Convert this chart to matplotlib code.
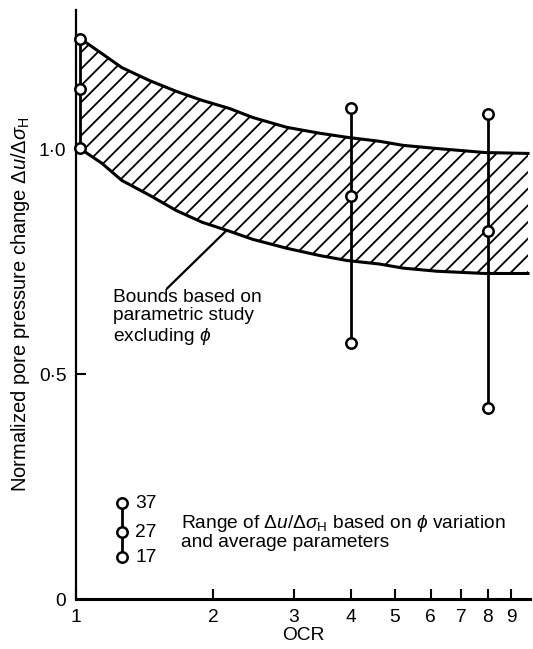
"""Normalized pore pressure change vs OCR, with parametric bounds."""

import matplotlib
matplotlib.use("Agg")
import matplotlib.pyplot as plt
from matplotlib.ticker import FixedLocator, NullLocator

plt.rcParams["font.family"] = ["Liberation Sans", "DejaVu Sans"]
plt.rcParams["mathtext.fontset"] = "custom"
plt.rcParams["mathtext.rm"] = "Liberation Sans"
plt.rcParams["mathtext.it"] = "Liberation Sans:italic"
plt.rcParams["hatch.linewidth"] = 1.3

# bounds from the parametric study (shaded band)
band_ocr = [1.02, 1.14, 1.26, 1.45, 1.66, 1.89, 2.17, 2.44, 2.90, 3.42, 3.92, 4.63, 5.21, 6.18, 7.88, 9.8]
band_upper = [1.247, 1.213, 1.182, 1.153, 1.129, 1.109, 1.091, 1.071, 1.049, 1.036, 1.027, 1.018, 1.009, 1.002, 0.993, 0.991]
band_lower = [1.002, 0.969, 0.931, 0.898, 0.864, 0.838, 0.818, 0.800, 0.780, 0.764, 0.753, 0.745, 0.736, 0.729, 0.724, 0.724]

# range of du/dsigma_H for phi variation (average parameters)
pt_ocr = [1.02, 4, 8]
phi_37 = [1.245, 1.091, 1.078]
phi_27 = [1.135, 0.896, 0.818]
phi_17 = [1.003, 0.569, 0.424]

# key symbol
key_ocr = 1.26
key_vals = [0.213, 0.149, 0.093]
key_labels = ["37", "27", "17"]

x_ticks = [1, 2, 3, 4, 5, 6, 7, 8, 9]
y_ticks = [0, 0.5, 1.0]
y_ticklabels = ["0", "0·5", "1·0"]

FS = 13.8
DPI = 100
fig = plt.figure(figsize=(533 / DPI, 649 / DPI), dpi=DPI)
ax = fig.add_axes([76 / 533, 50 / 649, 454 / 533, 589 / 649])
ax.set_xscale("log")
ax.set_xlim(1, 9.9)
ax.set_ylim(0, 1.31)

ax.fill_between(band_ocr, band_lower, band_upper, facecolor="none",
                edgecolor="black", hatch="//", linewidth=0)
ax.plot(band_ocr, band_upper, color="black", lw=2.2)
ax.plot(band_ocr, band_lower, color="black", lw=2.2)

for i, x in enumerate(pt_ocr):
    ys = [phi_37[i], phi_27[i], phi_17[i]]
    ax.plot([x] * 3, ys, color="black", lw=2.0, marker="o", ms=7.5,
            mfc="white", mec="black", mew=1.8, clip_on=False, zorder=5)

ax.plot([key_ocr] * 3, key_vals, color="black", lw=2.0, marker="o", ms=7.5,
        mfc="white", mec="black", mew=1.8, zorder=5)
for v, lab in zip(key_vals, key_labels):
    ax.text(key_ocr * 1.07, v, lab, fontsize=FS, va="center", ha="left")

ax.text(1.70, 0.15, "Range of $\\mathit{\\Delta u/\\Delta\\sigma}_\\mathrm{H}$ based on $\\phi$ variation\nand average parameters",
        fontsize=FS, va="center", ha="left", linespacing=1.0)

ax.text(1.205, 0.69, "Bounds based on\nparametric study\nexcluding $\\phi$",
        fontsize=FS, va="top", ha="left", linespacing=1.12)
ax.plot([1.585, 2.13], [0.691, 0.818], color="black", lw=1.6)

ax.xaxis.set_major_locator(FixedLocator(x_ticks))
ax.xaxis.set_minor_locator(NullLocator())
ax.set_xticklabels([str(t) for t in x_ticks])
ax.set_yticks(y_ticks)
ax.set_yticklabels(y_ticklabels)
ax.tick_params(direction="in", length=7, width=1.5, labelsize=FS, pad=7)

for side in ("top", "right"):
    ax.spines[side].set_visible(False)
ax.spines["left"].set_linewidth(1.6)
ax.spines["bottom"].set_linewidth(2.2)

ax.set_xlabel("OCR", fontsize=FS, labelpad=1)
ax.set_ylabel("Normalized pore pressure change $\\mathit{\\Delta u/\\Delta\\sigma}_\\mathrm{H}$",
              fontsize=14.5, labelpad=5)

fig.savefig("out.png", dpi=DPI)
